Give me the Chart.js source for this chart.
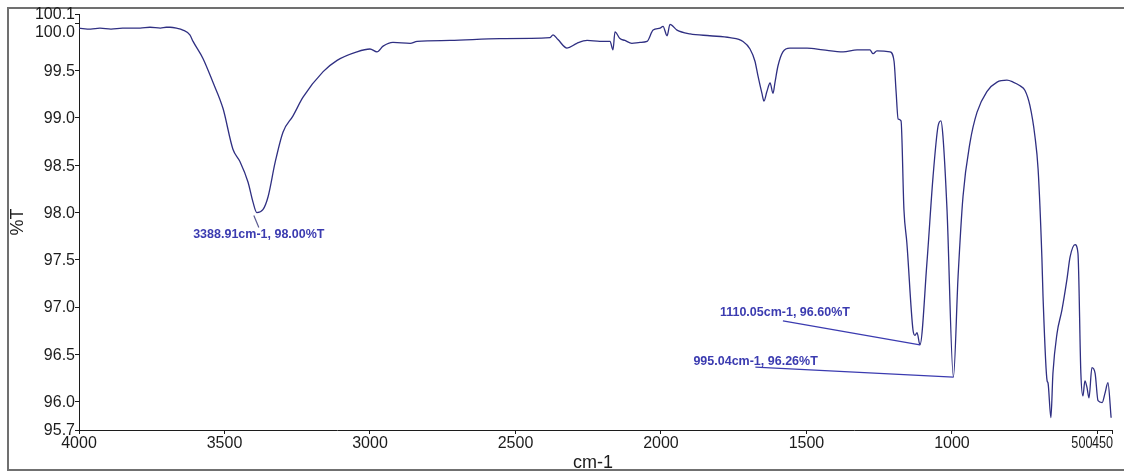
<!DOCTYPE html>
<html>
<head>
<meta charset="utf-8">
<title>IR spectrum</title>
<script src="https://cdn.jsdelivr.net/npm/chart.js@4.4.1/dist/chart.umd.min.js"></script>
<style>
    html, body { margin: 0; padding: 0; background: #fff; }
    #wrap { position: relative; width: 1124px; height: 474px; }
</style>
</head>
<body>
<div id="wrap"><canvas id="spectrum"></canvas></div>
<script>
// wavenumber (cm-1) and transmittance (%T) of the trace
const wavenumbers = [
    4000, 3960, 3928, 3890, 3850, 3825, 3790, 3756, 3720, 3700,
    3687, 3665, 3643, 3619, 3608, 3574, 3540,
    3505, 3471, 3447, 3419, 3402, 3388.91, 3368, 3350, 3326, 3299,
    3265, 3230, 3161, 3113, 3045, 3000, 2976, 2955, 2921, 2862,
    2838, 2725, 2553, 2381, 2371, 2354, 2323, 2289, 2254, 2210,
    2175, 2165, 2158, 2141, 2124, 2100, 2072, 2048, 2027, 2003,
    1993, 1979, 1969, 1945, 1900, 1832, 1763, 1718, 1694, 1677,
    1667, 1653, 1646, 1636, 1625, 1615, 1608, 1598, 1581, 1557,
    1498, 1443, 1374, 1326, 1282, 1271, 1258, 1213, 1199, 1192,
    1185, 1175, 1165, 1155, 1134, 1127, 1120, 1110.05, 1086, 1065,
    1048, 1038, 1031, 1017, 995.04, 979, 962, 938, 914, 880,
    845, 811, 790, 766, 749, 732, 715, 704, 691, 687,
    673, 670, 660, 653, 639, 622, 605, 594, 577, 567,
    557, 550, 543, 536, 529, 519, 508, 498, 484, 474,
    464, 453
];
const transmittance = [
    99.95, 99.94, 99.95, 99.94, 99.95, 99.95, 99.95, 99.96, 99.95, 99.96,
    99.96, 99.95, 99.93, 99.88, 99.81, 99.63, 99.38,
    99.10, 98.67, 98.54, 98.32, 98.11, 98.00, 98.03, 98.17, 98.53, 98.85,
    99.02, 99.22, 99.49, 99.61, 99.70, 99.73, 99.70, 99.76, 99.80, 99.79,
    99.81, 99.82, 99.84, 99.85, 99.88, 99.83, 99.74, 99.79, 99.82, 99.81,
    99.81, 99.72, 99.91, 99.84, 99.82, 99.79, 99.80, 99.81, 99.93, 99.95,
    99.97, 99.87, 99.99, 99.93, 99.89, 99.87, 99.85, 99.81, 99.73, 99.60,
    99.45, 99.26, 99.18, 99.28, 99.37, 99.26, 99.38, 99.55, 99.70, 99.74,
    99.74, 99.72, 99.70, 99.72, 99.72, 99.68, 99.71, 99.70, 99.60, 99.28,
    98.99, 98.97, 98.03, 97.68, 96.76, 96.70, 96.73, 96.60, 97.47, 98.38,
    98.91, 98.97, 98.81, 98.03, 96.26, 97.32, 98.17, 98.74, 99.06, 99.28,
    99.38, 99.40, 99.38, 99.34, 99.29, 99.13, 98.81, 98.46, 97.53, 97.11,
    96.22, 96.20, 95.83, 96.30, 96.72, 96.97, 97.29, 97.53, 97.66, 97.57,
    96.30, 96.06, 96.22, 96.15, 96.04, 96.36, 96.30, 96.01, 95.99, 96.09,
    96.20, 95.83
];

// labelled peaks
const peakWavenumbers = [3388.91, 1110.05, 995.04];
const peakTransmittance = [98.00, 96.60, 96.26];

const xTicks = [4000, 3500, 3000, 2500, 2000, 1500, 1000, 500, 450];
const yTicks = [100.1, 100.0, 99.5, 99.0, 98.5, 98.0, 97.5, 97.0, 96.5, 96.0, 95.7];

const FONT = '"Liberation Sans", Arial, sans-serif';
const INK = '#1c1c1c';
const PEAK_BLUE = '#3b3bb0';

// label placement relative to each peak point: label anchor and leader ends
const peakLayout = [
    { dx: 2, dy: 22, align: 'center', lx0: -3, ly0: 3, lx1: 2, ly1: 15 },
    { dx: -200, dy: -32, align: 'left', lx0: 0, ly0: 0, lx1: -137, ly1: -24 },
    { dx: -260, dy: -16, align: 'left', lx0: 0, ly0: 0, lx1: -198, ly1: -10 }
];

const frame = {
    id: 'frame',
    beforeDraw(chart) {
        const ctx = chart.ctx;
        ctx.save();
        ctx.strokeStyle = '#707070';
        ctx.lineWidth = 2;
        ctx.beginPath();
        ctx.moveTo(1130, 8);
        ctx.lineTo(8, 8);
        ctx.lineTo(8, 470);
        ctx.lineTo(1130, 470);
        ctx.stroke();
        ctx.restore();
    }
};

const axisText = {
    id: 'axisText',
    afterDraw(chart) {
        const ctx = chart.ctx;
        const xs = chart.scales.x, ys = chart.scales.y;
        ctx.save();
        ctx.fillStyle = INK;
        ctx.font = '16px ' + FONT;

        ctx.textAlign = 'right';
        ctx.textBaseline = 'middle';
        yTicks.forEach(v => {
            let py = ys.getPixelForValue(v);
            if (v === 100.0) py += 8; // keep it clear of the 100.1 label
            ctx.fillText(v.toFixed(1), xs.left - 4, py + 1);
        });

        ctx.textBaseline = 'top';
        const ly = ys.bottom + 6;
        xTicks.forEach(v => {
            const px = xs.getPixelForValue(v);
            if (v === 500 || v === 450) {
                // the two closing labels sit squeezed together
                ctx.save();
                ctx.translate(v === 500 ? px - 5 : px - 20, ly);
                ctx.scale(0.79, 1);
                ctx.textAlign = v === 500 ? 'right' : 'left';
                ctx.fillText(String(v), 0, 0);
                ctx.restore();
            } else {
                ctx.textAlign = 'center';
                ctx.fillText(String(v), px, ly);
            }
        });

        // axis titles
        ctx.font = '18px ' + FONT;
        ctx.textAlign = 'center';
        ctx.textBaseline = 'middle';
        ctx.fillText('cm-1', 593, 463);
        ctx.translate(18, 222);
        ctx.rotate(-Math.PI / 2);
        ctx.fillText('%T', 0, 0);
        ctx.restore();
    }
};

const peakLabels = {
    id: 'peakLabels',
    afterDatasetsDraw(chart) {
        const ctx = chart.ctx;
        const xs = chart.scales.x, ys = chart.scales.y;
        ctx.save();
        ctx.font = 'bold 12.5px ' + FONT;
        ctx.textBaseline = 'middle';
        peakWavenumbers.forEach((wn, i) => {
            const t = peakTransmittance[i];
            const px = xs.getPixelForValue(wn);
            const py = ys.getPixelForValue(t);
            const l = peakLayout[i];

            ctx.strokeStyle = i === 0 ? '#5a5a90' : PEAK_BLUE;
            ctx.lineWidth = 1.2;
            ctx.beginPath();
            ctx.moveTo(px + l.lx0, py + l.ly0);
            ctx.lineTo(px + l.lx1, py + l.ly1);
            ctx.stroke();

            ctx.fillStyle = PEAK_BLUE;
            ctx.textAlign = l.align;
            ctx.fillText(wn.toFixed(2) + 'cm-1, ' + t.toFixed(2) + '%T', px + l.dx, py + l.dy);
        });
        ctx.restore();
    }
};

const points = wavenumbers.map((wn, i) => ({ x: wn, y: transmittance[i] }));

new Chart(document.getElementById('spectrum'), {
    type: 'scatter',
    data: {
        datasets: [{
            data: points,
            showLine: true,
            borderColor: '#2f2f82',
            borderWidth: 1.3,
            pointRadius: 0,
            cubicInterpolationMode: 'monotone'
        }]
    },
    options: {
        responsive: true,
        maintainAspectRatio: false,
        animation: false,
        layout: { padding: { left: 0, top: 14, right: 12, bottom: 0 } },
        plugins: {
            legend: { display: false },
            tooltip: { enabled: false }
        },
        scales: {
            x: {
                type: 'linear',
                reverse: true,
                min: 450,
                max: 4000,
                afterBuildTicks: scale => { scale.ticks = xTicks.map(v => ({ value: v })); },
                afterFit: scale => { scale.height = 44; },
                grid: { drawOnChartArea: false, tickLength: 4, color: INK },
                border: { display: true, color: INK, width: 1 },
                ticks: { display: false }
            },
            y: {
                min: 95.7,
                max: 100.1,
                afterBuildTicks: scale => { scale.ticks = yTicks.map(v => ({ value: v })); },
                afterFit: scale => { scale.width = 79; },
                grid: { drawOnChartArea: false, tickLength: 4, color: INK },
                border: { display: true, color: INK, width: 1 },
                ticks: { display: false }
            }
        }
    },
    plugins: [frame, axisText, peakLabels]
});
</script>
</body>
</html>
